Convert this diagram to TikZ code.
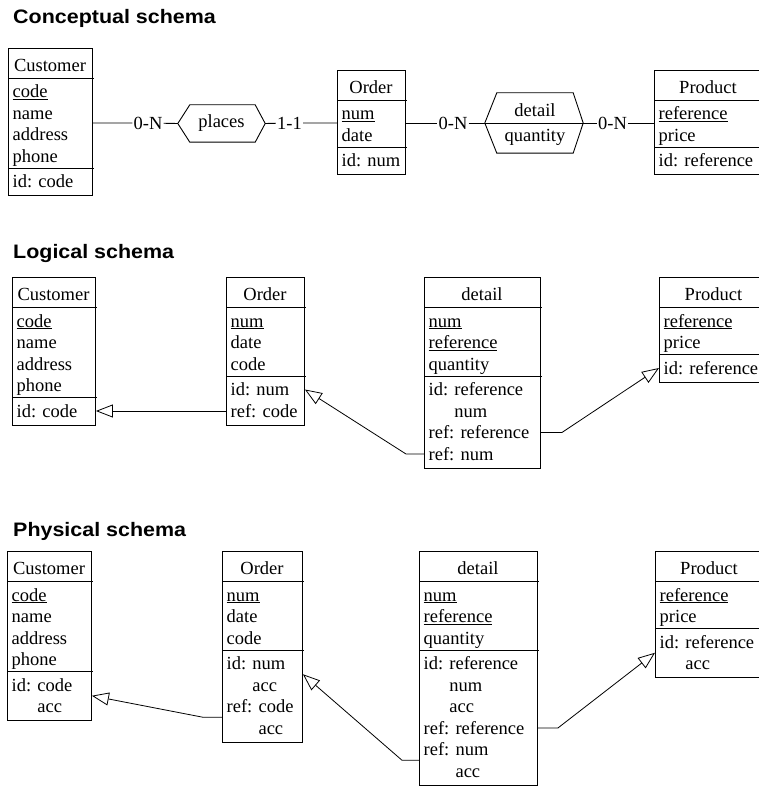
\documentclass[tikz,border=0pt]{standalone}
\usepackage{fontspec}
\setmainfont{Liberation Serif}
\newfontfamily\titlefam[FakeStretch=1.1]{Liberation Sans}
\usetikzlibrary{arrows.meta,calc}

\newcommand\erfont{\fontsize{18.5}{21.5}\selectfont}
\newcommand\headfont{\titlefam\bfseries\fontsize{19.5}{22}\selectfont}

\tikzset{
  tbox/.style={draw, line width=0.9pt, rectangle, inner sep=0pt, anchor=north west},
  sepline/.style={line width=0.9pt},
  hdr/.style={anchor=base, inner sep=0pt, font=\erfont},
  attr/.style={anchor=base west, inner sep=0pt, text height=12pt, text depth=0pt, font=\erfont},
  card/.style={inner sep=1pt, font=\erfont},
  link/.style={line width=0.9pt},
  fk/.style={line width=0.8pt, -{Triangle[open, length=17pt, width=13pt]}},
  relbox/.style={inner sep=0pt, font=\erfont},
  reltext/.style={anchor=base, inner sep=0pt, font=\erfont},
  heading/.style={anchor=base west, inner sep=0pt, font=\headfont}
}

% #1 name, #2 left, #3 right, #4 top, #5 heading,
% #6 number of attributes, #7 attributes, #8 number of key rows, #9 key rows
\newcommand\ertable[9]{%
  \pgfmathsetmacro\tbHs{#4+30}%
  \pgfmathsetmacro\tbKs{#4+50+(#6-1)*21.5+6}%
  \pgfmathsetmacro\tbB{\tbKs+19.5+(#8-1)*21.5+7.5}%
  \pgfmathsetmacro\tbW{#3-#2}%
  \pgfmathsetmacro\tbH{\tbB-#4}%
  \node[tbox, minimum width=\tbW pt, minimum height=\tbH pt] (#1) at (#2,-#4) {};
  \draw[sepline] (#2,-\tbHs) -- ({#3+1.5},-\tbHs);
  \draw[sepline] (#2,-\tbKs) -- ({#3+1.5},-\tbKs);
  \node[hdr] (#1-h) at ({(#2+#3)/2},{-(#4+23.5)}) {#5};
  \foreach \rowtext [count=\i] in {#7}
    {\node[attr] (#1-a\i) at ({#2+4.5},{-(#4+50+(\i-1)*21.5)}) {\rowtext};}
  \foreach \rowtext [count=\i] in {#9}
    {\node[attr] (#1-k\i) at ({#2+4.5},{-(\tbKs+19.5+(\i-1)*21.5)}) {\rowtext};}
}

\begin{document}
\begin{tikzpicture}[x=1pt, y=1pt]
\path[use as bounding box, fill=white] (0,0) rectangle (758,-786);

% ---------------- Conceptual schema ----------------
\node[heading] (t-conc) at (13,-24) {Conceptual schema};

\ertable{cc}{8}{92}{48}{Customer}{4}{\underline{code},name,address,phone}{1}{id: code}
\ertable{co}{337}{405}{70}{Order}{2}{\underline{num},date}{1}{id: num}
\ertable{cp}{654}{762}{70}{Product}{2}{\underline{reference},price}{1}{id: reference}

% relationship types
\node[relbox, minimum width=87pt, minimum height=37pt] (places) at (221.5,-123.5) {places};
\draw[link] ([xshift=12pt]places.north west) -- ([xshift=-10pt]places.north east)
  -- (places.east) -- ([xshift=-10pt]places.south east)
  -- ([xshift=12pt]places.south west) -- (places.west) -- cycle;

\node[relbox, minimum width=98pt, minimum height=60pt] (rel) at (534,-123) {};
\draw[link] ([xshift=12pt]rel.north west) -- ([xshift=-10pt]rel.north east)
  -- (rel.east) -- ([xshift=-10pt]rel.south east)
  -- ([xshift=12pt]rel.south west) -- (rel.west) -- cycle;
\draw[link] (rel.west) -- (rel.east);
\node[reltext] (rel-name) at (535,-117) {detail};
\node[reltext] (rel-attr) at (535,-141.5) {quantity};

% roles with cardinalities
\node[card] (c1) at (148,-123) {0-N};
\node[card] (c2) at (289.5,-123) {1-1};
\node[card] (c3) at (453,-123) {0-N};
\node[card] (c4) at (612.5,-123) {0-N};
\draw[link] (cc.east |- c1) -- (c1) -- (places.west);
\draw[link] (places.east) -- (c2) -- (co.west |- c2);
\draw[link] (co.east |- c3) -- (c3) -- (rel.west);
\draw[link] (rel.east) -- (c4) -- (cp.west |- c4);

% ---------------- Logical schema ----------------
\node[heading] (t-log) at (13,-258) {Logical schema};

\ertable{lc}{12}{95}{277}{Customer}{4}{\underline{code},name,address,phone}{1}{id: code}
\ertable{lo}{226}{304}{277}{Order}{3}{\underline{num},date,code}{2}{id: num,ref: code}
\ertable{ld}{424}{540}{277}{detail}{3}{\underline{num},\underline{reference},quantity}{4}{id: reference,\phantom{id: }num,ref: reference,ref: num}
\ertable{lp}{659}{768}{277}{Product}{2}{\underline{reference},price}{1}{id: reference}

\draw[fk] (lo.west |- lo-k2) -- (lc.east |- lo-k2);
\draw[fk] (ld.west |- ld-k4) -- ++(-18,0) -- (lo.east |- lo-k1);
\draw[fk] (ld.east |- ld-k3) -- ++(21,0) -- (lp.west |- lp-k1);

% ---------------- Physical schema ----------------
\node[heading] (t-phys) at (13,-536) {Physical schema};

\ertable{pc}{7}{91}{551}{Customer}{4}{\underline{code},name,address,phone}{2}{id: code,\phantom{id: }acc}
\ertable{po}{222}{302}{551}{Order}{3}{\underline{num},date,code}{4}{id: num,\phantom{id: }acc,ref: code,\phantom{ref: }acc}
\ertable{pd}{419}{537}{551}{detail}{3}{\underline{num},\underline{reference},quantity}{6}{id: reference,\phantom{id: }num,\phantom{id: }acc,ref: reference,ref: num,\phantom{ref: }acc}
\ertable{pp}{655}{763}{551}{Product}{2}{\underline{reference},price}{2}{id: reference,\phantom{id: }acc}

\coordinate (pc-m) at ($(pc-k1)!.5!(pc-k2)$);
\coordinate (po-m1) at ($(po-k1)!.5!(po-k2)$);
\coordinate (po-m2) at ($(po-k3)!.5!(po-k4)$);
\coordinate (pd-m) at ($(pd-k5)!.5!(pd-k6)$);
\coordinate (pp-m) at ($(pp-k1)!.5!(pp-k2)$);

\draw[fk] (po.west |- po-m2) -- ++(-19,0) -- (pc.east |- pc-m);
\draw[fk] (pd.west |- pd-m) -- ++(-17,0) -- (po.east |- po-m1);
\draw[fk] (pd.east |- pd-k4) -- ++(20,0) -- (pp.west |- pp-m);
\end{tikzpicture}
\end{document}
